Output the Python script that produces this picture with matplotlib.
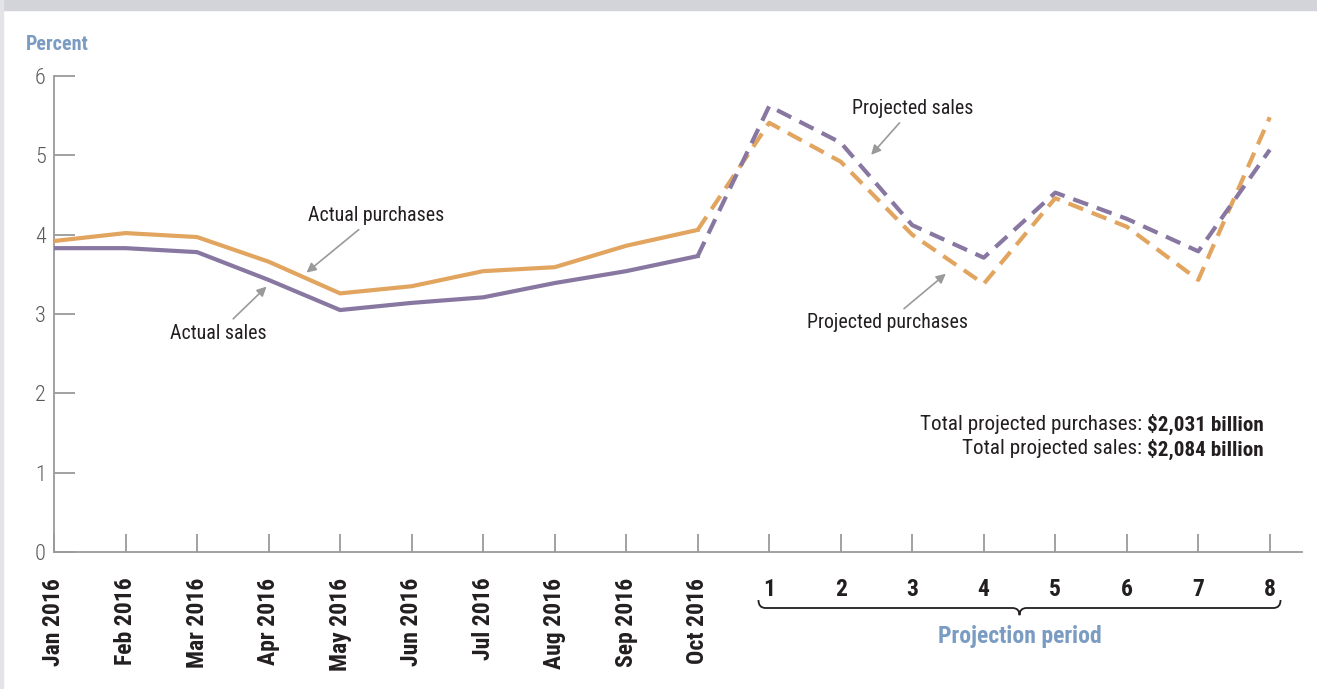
import matplotlib.pyplot as plt
from matplotlib.patches import Rectangle
from matplotlib.path import Path
from matplotlib.patches import PathPatch

months = ["Jan 2016", "Feb 2016", "Mar 2016", "Apr 2016", "May 2016",
          "Jun 2016", "Jul 2016", "Aug 2016", "Sep 2016", "Oct 2016"]
periods = ["1", "2", "3", "4", "5", "6", "7", "8"]

actual_purchases = [3.92, 4.02, 3.97, 3.66, 3.26, 3.35, 3.54, 3.59, 3.86, 4.06]
actual_sales = [3.83, 3.83, 3.78, 3.43, 3.05, 3.14, 3.21, 3.39, 3.54, 3.73]
proj_purchases = [5.41, 4.92, 4.00, 3.38, 4.46, 4.10, 3.43, 5.48]
proj_sales = [5.62, 5.16, 4.12, 3.71, 4.53, 4.20, 3.79, 5.07]

ORANGE = "#E1A55F"
PURPLE = "#8877A1"
BLUE = "#7B9CC2"
GRAY = "#9A9A9A"
TEXT = "#231F20"

plt.rcParams["font.family"] = ["Roboto Condensed", "Roboto", "DejaVu Sans"]

fig = plt.figure(figsize=(13.17, 6.89), dpi=100)
fig.patches.append(Rectangle((0, 679 / 689), 1, 10 / 689, transform=fig.transFigure,
                             color="#D2D4DA", zorder=0))
fig.patches.append(Rectangle((0, 0), 3 / 1317, 1, transform=fig.transFigure,
                             color="#E4E4E8", zorder=0))

ax = fig.add_axes([54 / 1317, 1 - 552 / 689, (1302 - 54) / 1317, (552 - 76) / 689])

labels = months + periods
x_all = list(range(len(labels)))
n = len(months)

ax.plot(x_all[:n], actual_purchases, color=ORANGE, lw=3, solid_joinstyle="miter", zorder=3)
ax.plot(x_all[:n], actual_sales, color=PURPLE, lw=3, solid_joinstyle="miter", zorder=3)
ax.plot(x_all[n - 1:], [actual_purchases[-1]] + proj_purchases, color=ORANGE, lw=3,
        dashes=(3.8, 2.2), zorder=3)
ax.plot(x_all[n - 1:], [actual_sales[-1]] + proj_sales, color=PURPLE, lw=3,
        dashes=(3.8, 2.2), zorder=4)

ax.set_xlim(0, 17.45)
ax.set_ylim(0, 6)
for s in ["top", "right"]:
    ax.spines[s].set_visible(False)
for s in ["left", "bottom"]:
    ax.spines[s].set_color(GRAY)
    ax.spines[s].set_linewidth(1.3)

ax.set_yticks(range(7))
ax.tick_params(axis="y", direction="in", length=15, width=1.3, color=GRAY,
               labelsize=16, labelcolor="#5A5A5C", pad=6)
for t in ax.get_yticklabels():
    t.set_fontweight("light")
ax.set_xticks(x_all)
ax.set_xticklabels(labels)
ax.tick_params(axis="x", direction="in", length=13, width=1.3, color=GRAY, pad=18.5)
for i, t in enumerate(ax.get_xticklabels()):
    t.set_fontweight("bold")
    t.set_color(TEXT)
    t.set_fontsize(17)
    t.set_va("top")
    if i < n:
        t.set_rotation(90)

fig.text(26 / 1317, 1 - 44 / 689, "Percent", color=BLUE, fontsize=14.5, fontweight="bold",
         va="center", ha="left")

arrow = dict(arrowstyle="-|>", color=GRAY, lw=1.2, mutation_scale=14)
ax.annotate("Actual purchases", xy=(3.5, 3.5), xytext=(4.5, 4.24), ha="center", va="center",
            fontsize=14.3, color=TEXT, arrowprops=arrow)
ax.annotate("Actual sales", xy=(3.0, 3.37), xytext=(2.3, 2.76), ha="center", va="center",
            fontsize=14.3, color=TEXT, arrowprops=arrow)
ax.annotate("Projected sales", xy=(11.4, 4.98), xytext=(12.0, 5.59), ha="center", va="center",
            fontsize=14.3, color=TEXT, arrowprops=arrow)
ax.annotate("Projected purchases", xy=(12.5, 3.53), xytext=(11.65, 2.89), ha="center", va="center",
            fontsize=14.3, color=TEXT, arrowprops=arrow)

# totals: regular text followed by bold value, right aligned
fig.canvas.draw()
rend = fig.canvas.get_renderer()
totals = [("Total projected purchases: ", "$2,031 billion", 424),
          ("Total projected sales: ", "$2,084 billion", 449)]
for lead, val, ypx in totals:
    tb = fig.text(1264 / 1317, 1 - ypx / 689, val, fontsize=15.2, fontweight="bold",
                  color=TEXT, ha="right", va="center")
    bb = tb.get_window_extent(renderer=rend)
    fig.text(bb.x0 / fig.bbox.width, 1 - ypx / 689, lead, fontsize=15.2, color=TEXT,
             ha="right", va="center")

# brace under projection period
x0, x1, xm = 10 - 0.15, 17.15, 13.5
trans = ax.get_xaxis_transform()
yb = -(608 - 552) / (552 - 76)
h = 8 / (552 - 76)
verts = [(x0, yb + h), (x0, yb), (x0 + 0.1, yb), (xm - 0.1, yb), (xm, yb),
         (xm, yb - h * 0.9), (xm, yb), (xm + 0.1, yb), (x1 - 0.1, yb), (x1, yb), (x1, yb + h)]
codes = [Path.MOVETO, Path.CURVE3, Path.CURVE3, Path.LINETO, Path.CURVE3, Path.CURVE3,
         Path.CURVE3, Path.CURVE3, Path.LINETO, Path.CURVE3, Path.CURVE3]
ax.add_patch(PathPatch(Path(verts, codes), transform=trans, fill=False, edgecolor=TEXT,
                       lw=1.3, clip_on=False))
ax.text(xm, -(637 - 552) / (552 - 76), "Projection period", transform=trans, ha="center",
        va="center", fontsize=17, fontweight="bold", color=BLUE)

fig.savefig("out.png", dpi=100, facecolor="white")
